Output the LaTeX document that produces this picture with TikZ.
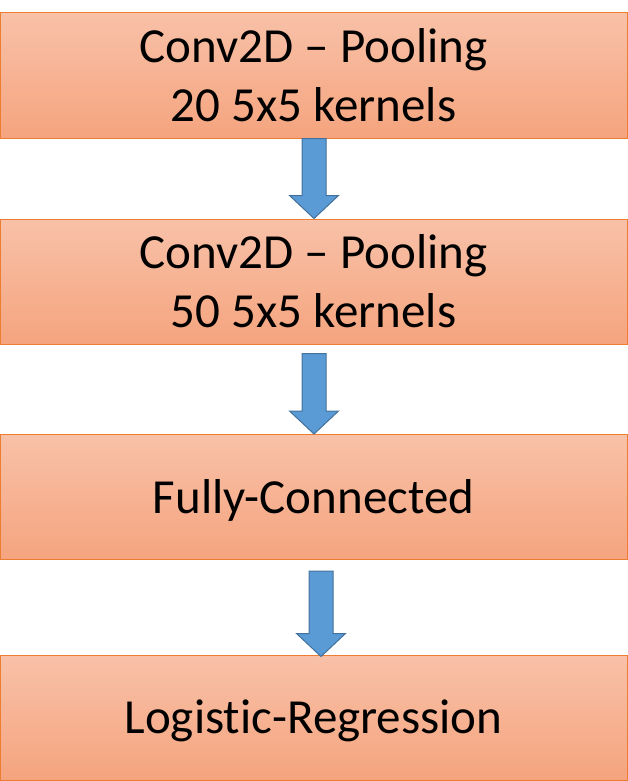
\documentclass[tikz,border=0pt]{standalone}
\usepackage{fontspec}
\setmainfont{Carlito}[Ligatures=NoCommon]
\usepackage{tikz}
\usetikzlibrary{calc}

\definecolor{boxedge}{HTML}{ED7D31}
\definecolor{boxtop}{HTML}{F8C1A8}
\definecolor{boxbottom}{HTML}{F5A47E}
\definecolor{arrowfill}{HTML}{5B9BD5}
\definecolor{arrowedge}{HTML}{41719C}

\begin{document}
\begin{tikzpicture}[x=1pt,y=1pt]
    \tikzstyle{layer}=[rectangle,draw=boxedge,line width=1pt,top color=boxtop,bottom color=boxbottom,minimum width=627pt,minimum height=125pt,inner sep=0pt,text height=32pt,text depth=0pt,align=center,font=\fontsize{49}{59}\selectfont]
    \tikzstyle{twolines}=[text height=92pt]
    \tikzstyle{blockarrow}=[draw=arrowedge,fill=arrowfill,line width=1pt,line join=miter]

    \def\sw{12}   % half width of the shaft
    \def\hw{24.5} % half width of the head
    \def\hl{23}   % length of the head

    % tail (#1) and tip (#2) of a block arrow
    \newcommand{\blockarrow}[2]{%
        \draw[blockarrow] ($(#2 |- #1)+(-\sw,0)$) -- ($(#2)+(-\sw,\hl)$) -- ($(#2)+(-\hw,\hl)$)
            -- (#2) -- ($(#2)+(\hw,\hl)$) -- ($(#2)+(\sw,\hl)$) -- ($(#2 |- #1)+(\sw,0)$) -- cycle;}

    \useasboundingbox (0,0) rectangle (628,-781);

    \node[layer,twolines] (conv1)  at (313.5, -75.5) {Conv2D – Pooling\\20 5x5 kernels};
    \node[layer,twolines] (conv2)  at (313.5,-281.5) {Conv2D – Pooling\\50 5x5 kernels};
    \node[layer]          (fc)     at (313.5,-497)   {Fully-Connected};
    \node[layer]          (logreg) at (313.5,-717.5) {Logistic-Regression};

    \coordinate (tail1) at (conv1.south);
    \coordinate (tip1)  at ($(conv2.north)+(0.5,0)$);
    \coordinate (tail2) at ($(conv2.south)+(0,-9)$);
    \coordinate (tip2)  at ($(fc.north)+(0.5,0)$);
    \coordinate (tail3) at ($(fc.south)+(0,-11)$);
    \coordinate (tip3)  at ($(logreg.north)+(7.5,-2)$);

    \blockarrow{tail1}{tip1}
    \blockarrow{tail2}{tip2}
    \blockarrow{tail3}{tip3}
\end{tikzpicture}
\end{document}
